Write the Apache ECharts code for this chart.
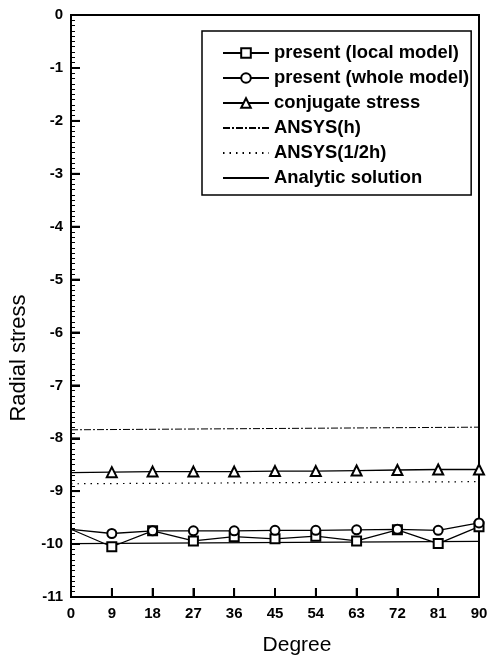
<!DOCTYPE html>
<html>
<head>
<meta charset="utf-8">
<script src="https://cdn.jsdelivr.net/npm/echarts@6/dist/echarts.min.js"></script>
<style>
html,body{margin:0;padding:0;background:#fff;}
#chart{width:489px;height:656px;}
</style>
</head>
<body>
<div id="chart"></div>
<script>
// Data
var degrees = [0, 9, 18, 27, 36, 45, 54, 63, 72, 81, 90];
var localModel = [-9.72, -10.05, -9.75, -9.94, -9.86, -9.90, -9.85, -9.94, -9.73, -9.99, -9.67];
var wholeModel = [-9.72, -9.80, -9.75, -9.75, -9.75, -9.74, -9.74, -9.73, -9.72, -9.74, -9.60];
var conjugate = [-8.65, -8.64, -8.63, -8.63, -8.63, -8.62, -8.62, -8.61, -8.60, -8.59, -8.59];
var lineX = [0, 90];
var ansysH = [-7.84, -7.79];
var ansysHalfH = [-8.86, -8.82];
var analytic = [-9.99, -9.95];
var xTicks = [0, 9, 18, 27, 36, 45, 54, 63, 72, 81, 90];
var yTicks = [0, -1, -2, -3, -4, -5, -6, -7, -8, -9, -10, -11];

function pairs(xs, ys, hideFirst) {
  return xs.map(function (x, i) {
    var item = {value: [x, ys[i]]};
    if (hideFirst && i === 0) item.symbol = 'none';
    return item;
  });
}

var FONT = 'Liberation Sans, Arial, sans-serif';
var TICK_LEN = 9;

// major tick marks drawn through the axes' own scales
function xTickItem(params, api) {
  var p = api.coord([api.value(0), -11]);
  return {type: 'line', shape: {x1: p[0], y1: p[1], x2: p[0], y2: p[1] - TICK_LEN},
    style: {stroke: '#000', lineWidth: 1.8}};
}
function yTickItem(params, api) {
  var p = api.coord([0, api.value(1)]);
  return {type: 'line', shape: {x1: p[0], y1: p[1], x2: p[0] + TICK_LEN, y2: p[1]},
    style: {stroke: '#000', lineWidth: 1.8}};
}

var chart = echarts.init(document.getElementById('chart'), null, {renderer: 'canvas'});
chart.setOption({
  backgroundColor: '#fff',
  animation: false,
  grid: {left: 71, top: 15, right: 10, bottom: 59, show: true, borderColor: '#000', borderWidth: 2,
    containLabel: false, outerBoundsMode: 'none'},
  legend: {
    orient: 'vertical', left: 202, top: 31,
    padding: [12, 2, 7, 20],
    itemGap: 5, itemWidth: 46, itemHeight: 12,
    borderColor: '#000', borderWidth: 1.5,
    backgroundColor: '#fff',
    textStyle: {fontFamily: FONT, fontSize: 18.4, fontWeight: 'bold', color: '#000', lineHeight: 20},
    data: [
      'present (local model)', 'present (whole model)', 'conjugate stress',
      {name: 'ANSYS(h)', itemStyle: {opacity: 0}},
      {name: 'ANSYS(1/2h)', itemStyle: {opacity: 0}},
      {name: 'Analytic solution', itemStyle: {opacity: 0}}
    ]
  },
  xAxis: {
    type: 'value', min: 0, max: 90, interval: 9, position: 'bottom',
    name: 'Degree', nameLocation: 'middle', nameGap: 38,
    nameTextStyle: {fontFamily: FONT, fontSize: 21, color: '#000', padding: [0, 0, 0, 44]},
    axisLine: {show: true, onZero: false, lineStyle: {color: '#000', width: 2}},
    axisTick: {show: true, inside: true, length: 9, lineStyle: {color: '#000', width: 2}},
    axisLabel: {fontFamily: FONT, fontSize: 15, fontWeight: 'bold', color: '#000', margin: 9},
    splitLine: {show: false}
  },
  yAxis: {
    type: 'value', min: -11, max: 0, interval: 1, position: 'left',
    name: 'Radial stress', nameLocation: 'middle', nameGap: 41,
    nameTextStyle: {fontFamily: FONT, fontSize: 22, color: '#000', padding: [0, 104, 0, 0]},
    axisLine: {show: true, onZero: false, lineStyle: {color: '#000', width: 2}},
    axisTick: {show: true, inside: true, length: 9, lineStyle: {color: '#000', width: 2}},
    minorTick: {show: true, splitNumber: 10, length: 4, lineStyle: {color: '#000', width: 1}},
    axisLabel: {fontFamily: FONT, fontSize: 15, fontWeight: 'bold', color: '#000', margin: 8,
      formatter: function (v) { return yTicks.indexOf(v) >= 0 ? String(v) : ''; }},
    splitLine: {show: false}
  },
  series: [
    {name: 'present (local model)', type: 'line', data: pairs(degrees, localModel, true),
      symbol: 'emptyRect', symbolSize: 9, color: '#000',
      lineStyle: {color: '#000', width: 1.3}, itemStyle: {color: '#000', borderWidth: 1.6}},
    {name: 'present (whole model)', type: 'line', data: pairs(degrees, wholeModel, true),
      symbol: 'emptyCircle', symbolSize: 9, color: '#000',
      lineStyle: {color: '#000', width: 1.3}, itemStyle: {color: '#000', borderWidth: 1.6}},
    {name: 'conjugate stress', type: 'line', data: pairs(degrees, conjugate, true),
      symbol: 'emptyTriangle', symbolSize: 10, color: '#000',
      lineStyle: {color: '#000', width: 1.3}, itemStyle: {color: '#000', borderWidth: 1.8}},
    {name: 'ANSYS(h)', type: 'line', data: pairs(lineX, ansysH, false),
      symbol: 'none', color: '#000',
      lineStyle: {color: '#000', width: 1, type: [7, 2, 2, 2]}},
    {name: 'ANSYS(1/2h)', type: 'line', data: pairs(lineX, ansysHalfH, false),
      symbol: 'none', color: '#000',
      lineStyle: {color: '#000', width: 1.2, type: [1.5, 5]}},
    {name: 'Analytic solution', type: 'line', data: pairs(lineX, analytic, false),
      symbol: 'none', color: '#000',
      lineStyle: {color: '#000', width: 1.3}},
    {name: 'xticks', type: 'custom', renderItem: xTickItem, clip: false, silent: true, z: 5,
      data: xTicks.map(function (v) { return [v, -11]; })},
    {name: 'yticks', type: 'custom', renderItem: yTickItem, clip: false, silent: true, z: 5,
      data: yTicks.map(function (v) { return [0, v]; })}
  ]
});
</script>
</body>
</html>
